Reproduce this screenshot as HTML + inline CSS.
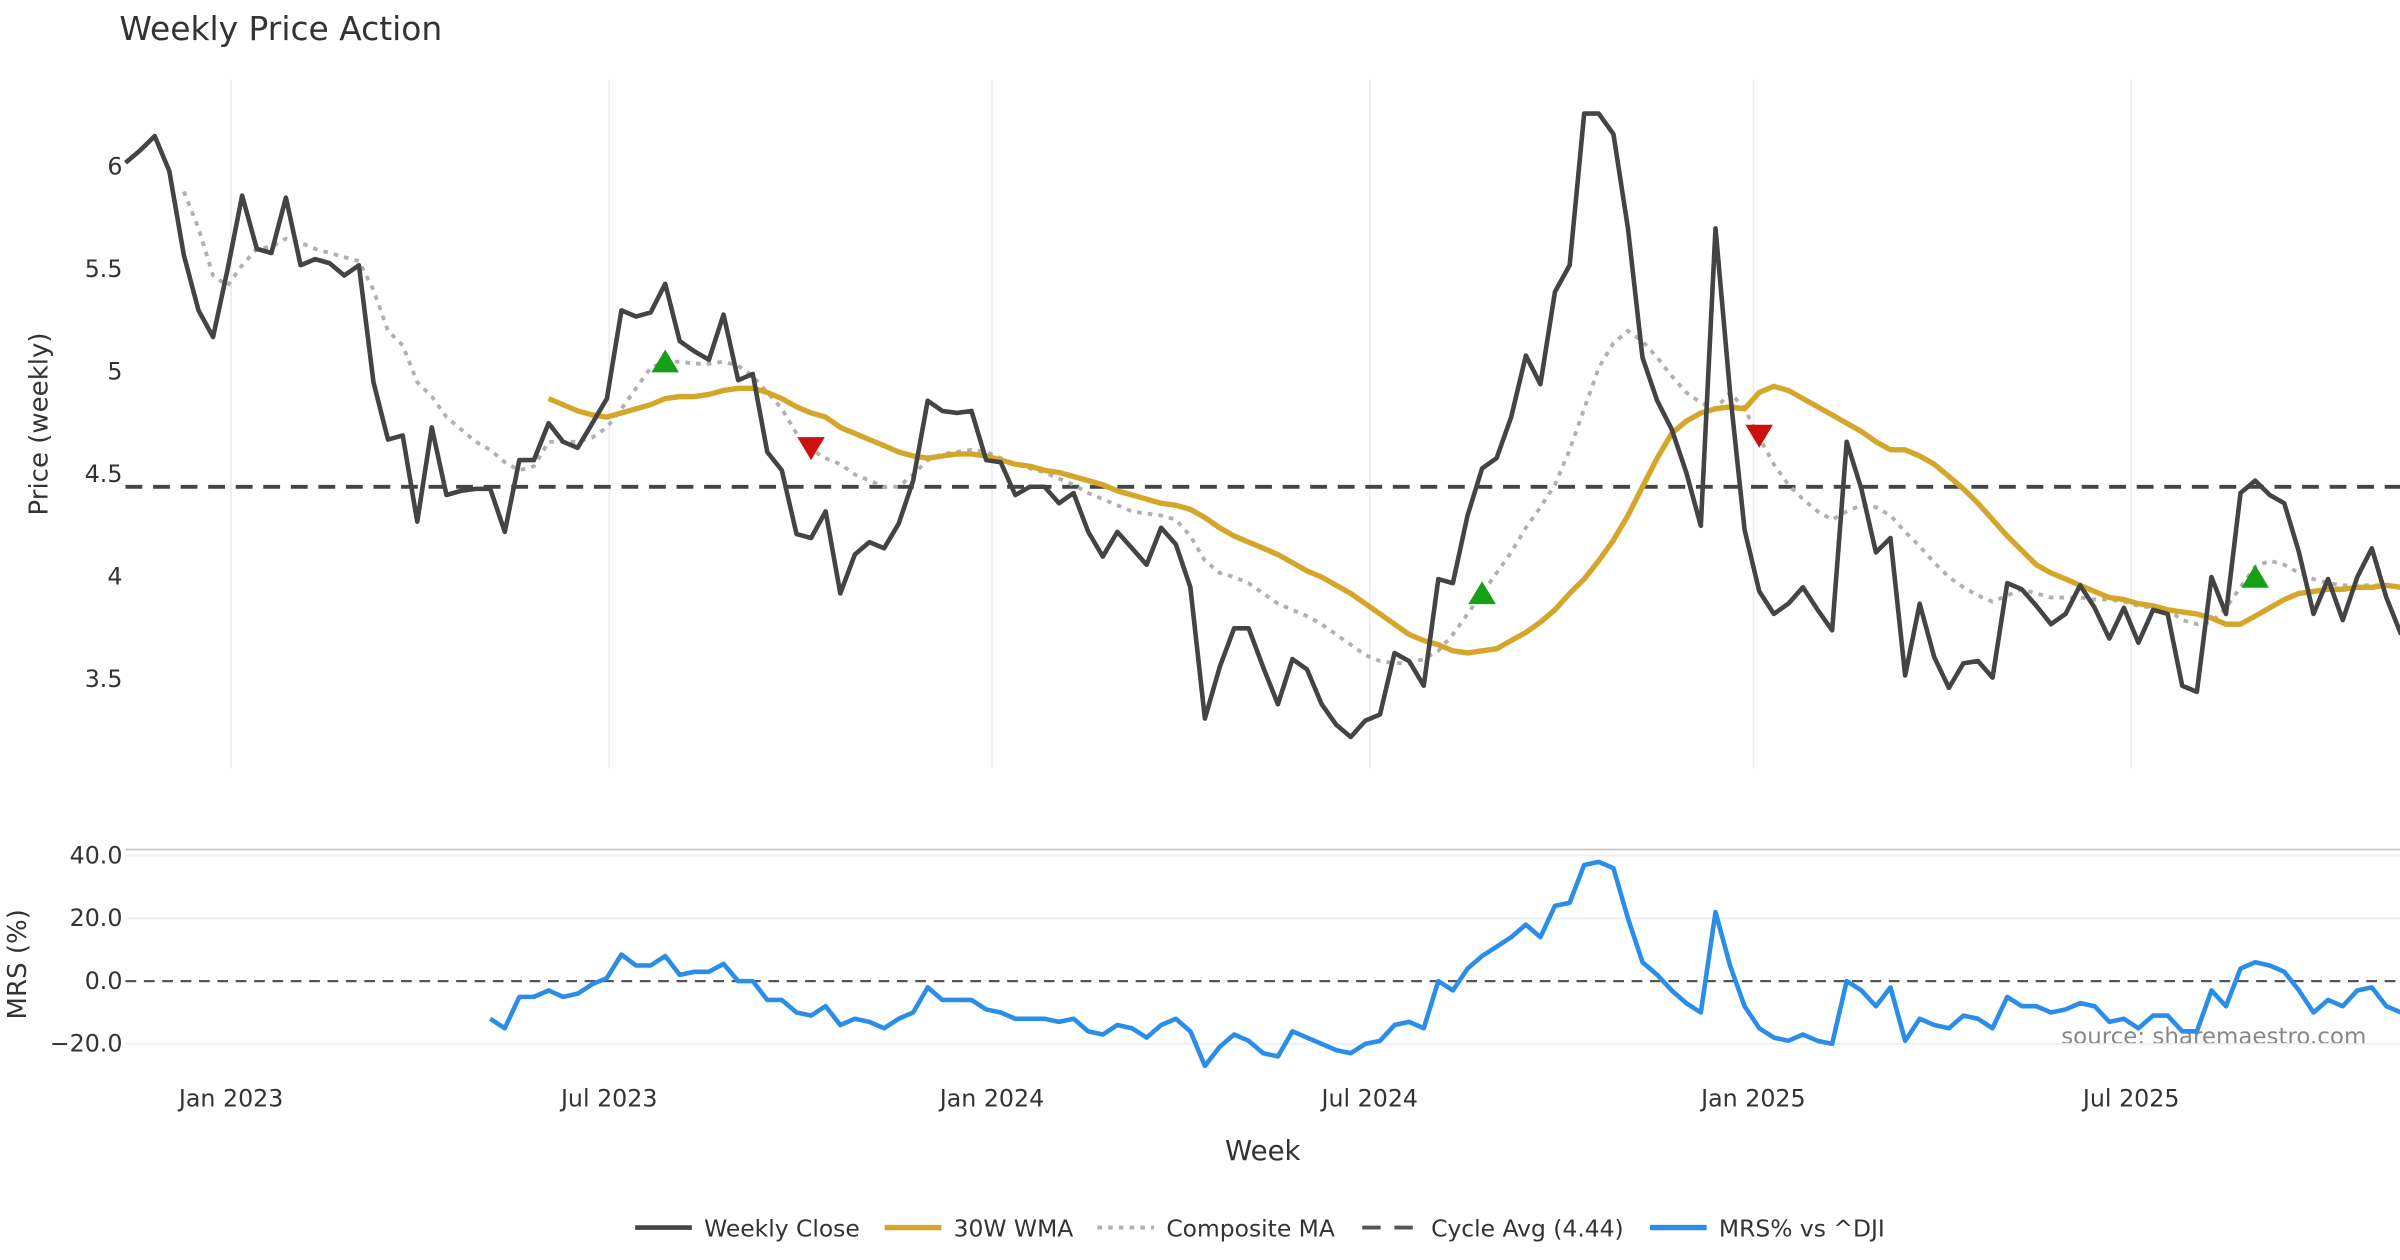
<!DOCTYPE html>
<html><head><meta charset="utf-8"><style>
html,body{margin:0;padding:0;background:#fff;}
svg{display:block;font-family:"DejaVu Sans","Liberation Sans",sans-serif;}
</style></head><body>
<svg id="chart" width="2400" height="1260" viewBox="0 0 1568 823.2" xmlns="http://www.w3.org/2000/svg">
<text x="78" y="26" font-size="21.5" fill="#333">Weekly Price Action</text>
<text transform="translate(31,277) rotate(-90)" text-anchor="middle" font-size="17" fill="#333">Price (weekly)</text>
<text transform="translate(17,630) rotate(-90)" text-anchor="middle" font-size="17" fill="#333">MRS (%)</text>
<text x="825" y="758" text-anchor="middle" font-size="18" fill="#333">Week</text>
<text x="1546" y="682" text-anchor="end" font-size="15" fill="#888">source: sharemaestro.com</text>
<g id="grid"></g>
<g id="marks"></g>
<g id="legend"></g>
</svg>
<script>
const closeVals=[6.02,6.08,6.15,5.98,5.57,5.30,5.17,5.50,5.86,5.60,5.58,5.85,5.52,5.55,5.53,5.47,5.52,4.95,4.67,4.69,4.27,4.73,4.40,4.42,4.43,4.43,4.22,4.57,4.57,4.75,4.66,4.63,4.75,4.87,5.30,5.27,5.29,5.43,5.15,5.10,5.06,5.28,4.96,4.99,4.61,4.52,4.21,4.19,4.32,3.92,4.11,4.17,4.14,4.26,4.47,4.86,4.81,4.80,4.81,4.57,4.56,4.40,4.44,4.44,4.36,4.41,4.22,4.10,4.22,4.14,4.06,4.24,4.16,3.95,3.31,3.56,3.75,3.75,3.56,3.38,3.60,3.55,3.38,3.28,3.22,3.30,3.33,3.63,3.59,3.47,3.99,3.97,4.30,4.53,4.58,4.78,5.08,4.94,5.39,5.52,6.26,6.26,6.16,5.70,5.07,4.86,4.72,4.51,4.25,5.70,4.90,4.23,3.93,3.82,3.87,3.95,3.84,3.74,4.66,4.43,4.12,4.19,3.52,3.87,3.61,3.46,3.58,3.59,3.51,3.97,3.94,3.86,3.77,3.82,3.96,3.85,3.70,3.85,3.68,3.84,3.82,3.47,3.44,4.00,3.82,4.41,4.47,4.40,4.36,4.12,3.82,3.99,3.79,4.00,4.14,3.90,3.72];
const wmaStart=29;
const wmaVals=[4.87,4.84,4.81,4.79,4.78,4.80,4.82,4.84,4.87,4.88,4.88,4.89,4.91,4.92,4.92,4.90,4.87,4.83,4.80,4.78,4.73,4.70,4.67,4.64,4.61,4.59,4.58,4.59,4.60,4.60,4.59,4.57,4.55,4.54,4.52,4.51,4.49,4.47,4.45,4.42,4.40,4.38,4.36,4.35,4.33,4.29,4.24,4.20,4.17,4.14,4.11,4.07,4.03,4.00,3.96,3.92,3.87,3.82,3.77,3.72,3.69,3.67,3.64,3.63,3.64,3.65,3.69,3.73,3.78,3.84,3.92,3.99,4.08,4.18,4.30,4.44,4.58,4.70,4.76,4.80,4.82,4.83,4.82,4.90,4.93,4.91,4.87,4.83,4.79,4.75,4.71,4.66,4.62,4.62,4.59,4.55,4.49,4.43,4.36,4.28,4.20,4.13,4.06,4.02,3.99,3.96,3.93,3.90,3.89,3.87,3.86,3.84,3.83,3.82,3.80,3.77,3.77,3.81,3.85,3.89,3.92,3.93,3.94,3.94,3.95,3.95,3.96,3.95];
const compStart=4;
const compVals=[5.88,5.70,5.47,5.42,5.52,5.60,5.61,5.65,5.63,5.60,5.58,5.56,5.54,5.40,5.20,5.13,4.95,4.88,4.78,4.72,4.66,4.62,4.56,4.52,4.54,4.66,4.66,4.66,4.68,4.73,4.82,4.92,5.02,5.05,5.05,5.04,5.04,5.05,5.03,4.98,4.90,4.82,4.70,4.62,4.58,4.55,4.50,4.47,4.44,4.44,4.50,4.57,4.60,4.61,4.62,4.61,4.58,4.55,4.53,4.51,4.48,4.45,4.41,4.38,4.35,4.32,4.31,4.30,4.28,4.20,4.08,4.02,4.00,3.97,3.92,3.87,3.84,3.81,3.77,3.72,3.67,3.62,3.59,3.58,3.58,3.60,3.64,3.72,3.82,3.92,4.02,4.12,4.24,4.34,4.45,4.62,4.82,5.02,5.14,5.20,5.15,5.07,4.98,4.90,4.85,4.82,4.90,4.82,4.68,4.55,4.45,4.38,4.32,4.28,4.32,4.35,4.34,4.30,4.22,4.15,4.07,4.00,3.95,3.91,3.88,3.91,3.94,3.92,3.90,3.90,3.90,3.89,3.89,3.88,3.86,3.85,3.84,3.79,3.77,3.78,3.85,3.95,4.05,4.08,4.06,4.02,3.99,3.97,3.96,3.96,3.96,3.96,3.95];
const cycleAvg=4.44;
const mrsStart=25;
const mrsVals=[-12,-15,-5,-5,-3,-5,-4,-1,1,8.5,5,5,8,2,3,3,5.5,0,0,-6,-6,-10,-11,-8,-14,-12,-13,-15,-12,-10,-2,-6,-6,-6,-9,-10,-12,-12,-12,-13,-12,-16,-17,-14,-15,-18,-14,-12,-16,-27,-21,-17,-19,-23,-24,-16,-18,-20,-22,-23,-20,-19,-14,-13,-15,0,-3,4,8,11,14,18,14,24,25,37,38,36,20,6,2,-3,-7,-10,22,5,-8,-15,-18,-19,-17,-19,-20,0,-3,-8,-2,-19,-12,-14,-15,-11,-12,-15,-5,-8,-8,-10,-9,-7,-8,-13,-12,-15,-11,-11,-16,-16,-3,-8,4,6,5,3,-3,-10,-6,-8,-3,-2,-8,-10];
const buyIdx=[37,93,146];
const buyVals=[5.05,3.92,4.0];
const sellIdx=[47,112];
const sellVals=[4.63,4.69];
const priceTicks=[3.5,4,4.5,5,5.5,6];
const priceTickLabels=["3.5","4","4.5","5","5.5","6"];
const mrsTicks=[-20,0,20,40];
const mrsTickLabels=["−20.0","0.0","20.0","40.0"];
const dateTickIdx=[7.24,33.16,59.4,85.3,111.6,137.5];
const dateTickLabels=["Jan 2023","Jul 2023","Jan 2024","Jul 2024","Jan 2025","Jul 2025"];

const NS="http://www.w3.org/2000/svg";
const X0=82, DX=9.53;
function xs(i){return X0+i*DX;}
function yp(v){return 109+(6-v)*134;}
function ym(v){return 641-v*2.05;}
const grid=document.getElementById('grid'), marks=document.getElementById('marks'), legend=document.getElementById('legend');
function mk(tag,attrs,parent){const e=document.createElementNS(NS,tag);for(const k in attrs)e.setAttribute(k,attrs[k]);parent.appendChild(e);return e;}
function pathOf(vals,start,yf){return vals.map((v,k)=>(k?'L':'M')+xs(start+k).toFixed(1)+','+yf(v).toFixed(1)).join(' ');}

dateTickIdx.forEach((d,k)=>{
  const g=mk('line',{x1:xs(d),x2:xs(d),y1:52,y2:502,stroke:'#ececf0','stroke-width':1},grid);
  
  
  const t=mk('text',{x:xs(d),y:723,'text-anchor':'middle','font-size':15.5,fill:'#333'},grid);
  t.textContent=dateTickLabels[k];
  
  
});
priceTicks.forEach((v,k)=>{
  const t=mk('text',{x:80,y:yp(v)+5,'text-anchor':'end','font-size':15.5,fill:'#333'},grid);
  t.textContent=priceTickLabels[k];
  
  
});
const border=mk('line',{x1:82,x2:1568,y1:555,y2:555,stroke:'#c8c8c8','stroke-width':1.2},grid);


mrsTicks.forEach((v,k)=>{
  if(v!==0){const l=mk('line',{x1:82,x2:1568,y1:ym(v),y2:ym(v),stroke:'#ececf0','stroke-width':1},grid);
    
    }
  const t=mk('text',{x:80,y:ym(v)+5,'text-anchor':'end','font-size':15.5,fill:'#333'},grid);
  t.textContent=mrsTickLabels[k];
  
  
});
const zl=mk('line',{x1:82,x2:1568,y1:ym(0),y2:ym(0),stroke:'#555','stroke-width':1.5,'stroke-dasharray':'7,5'},marks);



const ca=mk('line',{x1:82,x2:1568,y1:yp(cycleAvg),y2:yp(cycleAvg),stroke:'#444','stroke-width':2.5,'stroke-dasharray':'11,7'},marks);


const cm=mk('path',{d:pathOf(compVals,compStart,yp),fill:'none',stroke:'#b0b0b0','stroke-width':2.5,'stroke-dasharray':'3,4'},marks);


const wm=mk('path',{d:pathOf(wmaVals,wmaStart,yp),fill:'none',stroke:'#d4a62a','stroke-width':3.5,'stroke-linejoin':'round'},marks);


const cl=mk('path',{d:pathOf(closeVals,0,yp),fill:'none',stroke:'#444','stroke-width':3,'stroke-linejoin':'round'},marks);


buyIdx.forEach((i,k)=>{const x=xs(i),y=yp(buyVals[k]);
  const p=mk('polygon',{points:`${x-9},${y+7} ${x+9},${y+7} ${x},${y-8}`,fill:'#17a017'},marks);
  
  });
sellIdx.forEach((i,k)=>{const x=xs(i),y=yp(sellVals[k]);
  const p=mk('polygon',{points:`${x-9},${y-7} ${x+9},${y-7} ${x},${y+8}`,fill:'#cc1111'},marks);
  
  });
const mr=mk('path',{d:pathOf(mrsVals,mrsStart,ym),fill:'none',stroke:'#2a8de8','stroke-width':3,'stroke-linejoin':'round'},marks);



const items=[
 {x:415,label:'Weekly Close',stroke:'#444',dash:null,w:3},
 {x:578,label:'30W WMA',stroke:'#d4a62a',dash:null,w:3.5},
 {x:717,label:'Composite MA',stroke:'#b0b0b0',dash:'3,4',w:2.5},
 {x:890,label:'Cycle Avg (4.44)',stroke:'#555',dash:'12,9',w:2.5},
 {x:1078,label:'MRS% vs ^DJI',stroke:'#2a8de8',dash:null,w:3.5}];
items.forEach(it=>{
  const g=mk('g',{},legend);
  
  
  const a={x1:it.x,x2:it.x+37,y1:802,y2:802,stroke:it.stroke,'stroke-width':it.w};
  if(it.dash)a['stroke-dasharray']=it.dash;
  mk('line',a,g);
  const t=mk('text',{x:it.x+45,y:808,'font-size':15.3,fill:'#333'},g);
  t.textContent=it.label;
});
</script>
</body></html>
